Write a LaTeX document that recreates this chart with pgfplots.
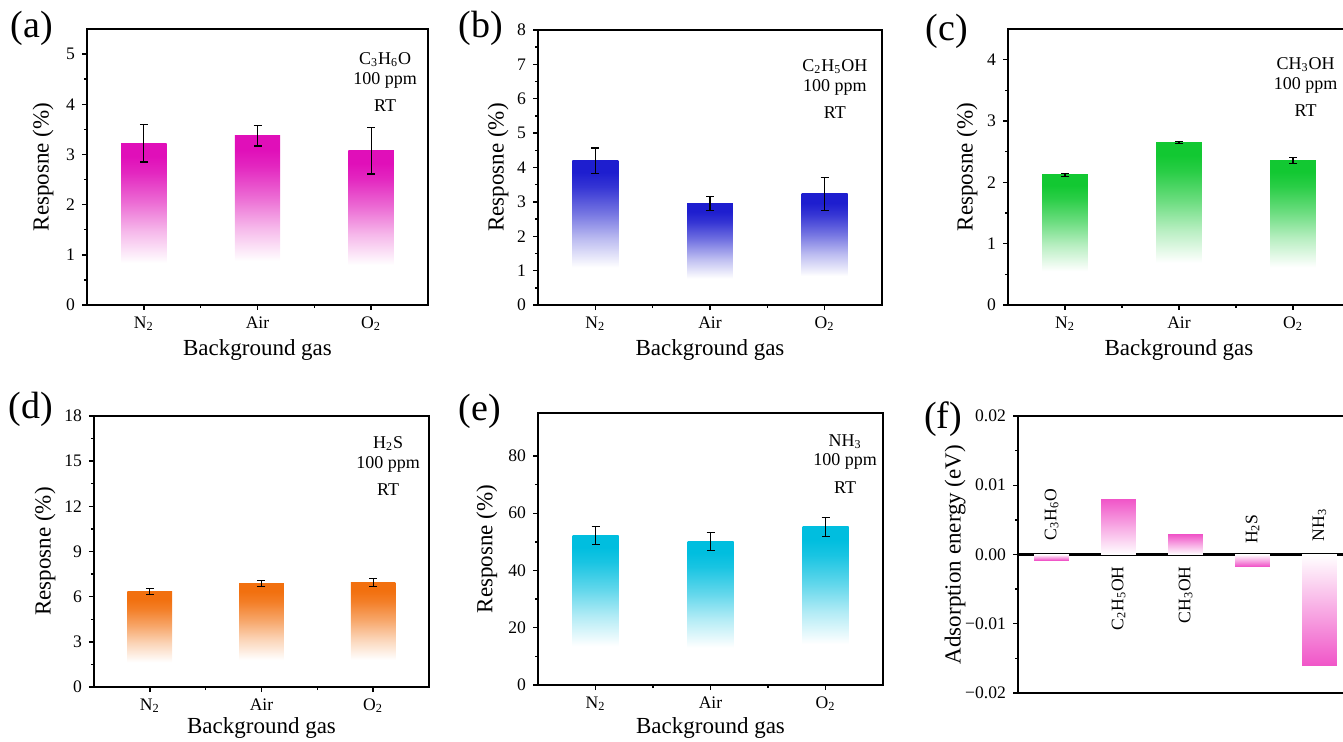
\documentclass[border=0pt]{standalone}
\usepackage{fontspec}
\setmainfont{Liberation Serif}
\usepackage{pgfplots}
\pgfplotsset{compat=1.18}

\definecolor{cA}{HTML}{E00FB9}
\definecolor{cB}{HTML}{1E1ECF}
\definecolor{cC}{HTML}{12C832}
\definecolor{cD}{HTML}{F2700F}
\definecolor{cE}{HTML}{00BEDF}
\definecolor{cF}{HTML}{F055C8}

\newcommand\mkshade[1]{%
  \colorlet{#1x}{#1!30!white}\colorlet{#1y}{#1!62!white}\colorlet{#1z}{#1!90!white}%
  \pgfdeclareverticalshading{up#1}{100bp}{color(0bp)=(white); color(38bp)=(white); color(48bp)=(#1x); color(57bp)=(#1y); color(66bp)=(#1z); color(71bp)=(#1); color(100bp)=(#1)}}
\mkshade{cA}\mkshade{cB}\mkshade{cC}\mkshade{cD}\mkshade{cE}\mkshade{cF}

\pgfplotsset{
  panel/.style={scale only axis, anchor=north west,
    axis line style={line width=0.9pt},
    tick align=outside, xtick pos=bottom, ytick pos=left,
    major tick length=2.5pt, minor tick length=1.5pt,
    every tick/.style={black, line width=0.7pt},
    tick label style={font=\fontsize{8.8}{9.5}\selectfont},
    label style={font=\fontsize{11.5}{13}\selectfont},
    /pgf/number format/assume math mode=true},
  gas/.style={axis on top, xmin=-0.5, xmax=2.5, xtick={0,1,2},
    xticklabels={N\textsubscript{2},Air,O\textsubscript{2}},
    minor x tick num=1, ymin=0, minor y tick num=1,
    xlabel={Background gas}, ylabel={Resposne (\%)}},
  ebar/.style={draw=none, mark=none, forget plot,
    error bars/.cd, y dir=both, y explicit,
    error bar style={draw=black, solid, line width=0.6pt},
    error mark options={draw=black, solid, rotate=90, mark size=2pt, line width=0.6pt}},
  gbar/.style={ybar, bar width=0.4, bar shift=0pt, draw=none, shade, shading=#1, forget plot},
  fup/.style={ybar, bar width=0.52, bar shift=0pt, draw=none, top color=cF, middle color=cF!45!white, bottom color=white, forget plot},
  fdn/.style={ybar, bar width=0.52, bar shift=0pt, draw=none, top color=white, middle color=cF!55!white, bottom color=cF, forget plot},
}
\newcommand\annot[3]{\node[align=center, anchor=north, font=\fontsize{9}{10.8}\selectfont] at (rel axis cs:#1,#2) {#3\\[-1pt]100 ppm\\[3pt]RT};}

\begin{document}
\begin{tikzpicture}
\useasboundingbox (0,0) rectangle (671.5pt,370.5pt);

% (a)
\begin{axis}[panel, gas, at={(43.5pt,356pt)}, width=170.5pt, height=138pt,
  ymax=5.5, ytick={0,1,2,3,4,5},
  xlabel style={at={(axis description cs:0.5,-0.163)}, anchor=center},
  ylabel style={at={(axis description cs:-0.129,0.5)}, anchor=center}]
\addplot[gbar=upcA] coordinates {(0,3.22)};
\addplot[gbar=upcA] coordinates {(1,3.37)};
\addplot[gbar=upcA] coordinates {(2,3.07)};
\addplot[ebar] coordinates {(0,3.22) +- (0,0.37) (1,3.37) +- (0,0.20) (2,3.07) +- (0,0.46)};
\annot{0.874}{0.94}{C\textsubscript{3}H\textsubscript{6}O}
\end{axis}

% (b)
\begin{axis}[panel, gas, at={(269pt,355.5pt)}, width=172pt, height=137.5pt,
  ymax=8, ytick={0,1,...,8},
  xlabel style={at={(axis description cs:0.5,-0.164)}, anchor=center},
  ylabel style={at={(axis description cs:-0.116,0.5)}, anchor=center}]
\addplot[gbar=upcB] coordinates {(0,4.20)};
\addplot[gbar=upcB] coordinates {(1,2.95)};
\addplot[gbar=upcB] coordinates {(2,3.23)};
\addplot[ebar] coordinates {(0,4.20) +- (0,0.37) (1,2.95) +- (0,0.21) (2,3.23) +- (0,0.47)};
\annot{0.863}{0.918}{C\textsubscript{2}H\textsubscript{5}OH}
\end{axis}

% (c)
\begin{axis}[panel, gas, at={(504pt,356pt)}, width=171pt, height=138pt,
  ymax=4.5, ytick={0,1,2,3,4},
  xlabel style={at={(axis description cs:0.5,-0.164)}, anchor=center},
  ylabel style={at={(axis description cs:-0.12,0.5)}, anchor=center}]
\addplot[gbar=upcC] coordinates {(0,2.12)};
\addplot[gbar=upcC] coordinates {(1,2.65)};
\addplot[gbar=upcC] coordinates {(2,2.36)};
\addplot[ebar] coordinates {(0,2.12) +- (0,0.03) (1,2.65) +- (0,0.02) (2,2.36) +- (0,0.05)};
\annot{0.87}{0.922}{CH\textsubscript{3}OH}
\end{axis}

% (d)
\begin{axis}[panel, gas, at={(47pt,162.5pt)}, width=167.5pt, height=135.5pt,
  ymax=18, ytick={0,3,...,18},
  xlabel style={at={(axis description cs:0.5,-0.151)}, anchor=center},
  ylabel style={at={(axis description cs:-0.146,0.5)}, anchor=center}]
\addplot[gbar=upcD] coordinates {(0,6.33)};
\addplot[gbar=upcD] coordinates {(1,6.90)};
\addplot[gbar=upcD] coordinates {(2,6.95)};
\addplot[ebar] coordinates {(0,6.33) +- (0,0.20) (1,6.90) +- (0,0.20) (2,6.95) +- (0,0.25)};
\annot{0.878}{0.95}{H\textsubscript{2}S}
\end{axis}

% (e)
\begin{axis}[panel, gas, at={(269pt,164pt)}, width=172.5pt, height=136pt,
  ymax=95, ytick={0,20,40,60,80},
  xlabel style={at={(axis description cs:0.5,-0.158)}, anchor=center},
  ylabel style={at={(axis description cs:-0.148,0.5)}, anchor=center}]
\addplot[gbar=upcE] coordinates {(0,52.3)};
\addplot[gbar=upcE] coordinates {(1,50.2)};
\addplot[gbar=upcE] coordinates {(2,55.2)};
\addplot[ebar] coordinates {(0,52.3) +- (0,3.2) (1,50.2) +- (0,3.2) (2,55.2) +- (0,3.3)};
\annot{0.89}{0.947}{NH\textsubscript{3}}
\end{axis}

% (f)
\begin{axis}[panel, at={(509pt,162.5pt)}, width=167.5pt, height=138.5pt,
  xmin=0.5, xmax=5.5, xtick=\empty,
  ymin=-0.02, ymax=0.02, ytick={-0.02,-0.01,0,0.01,0.02},
  yticklabels={−0.02,−0.01,0.00,0.01,0.02}, scaled y ticks=false,
  minor y tick num=1,
  extra y ticks={0,0.02}, extra y tick labels={},
  extra y tick style={grid=major, major grid style={black, line width=1.2pt}, major tick length=0pt},
  ylabel={Adsorption energy (eV)},
  ylabel style={at={(axis description cs:-0.188,0.5)}, anchor=center}]
\addplot[fdn] coordinates {(1,-0.0008)};
\addplot[fup] coordinates {(2,0.0080)};
\addplot[fup] coordinates {(3,0.0029)};
\addplot[fdn] coordinates {(4,-0.0017)};
\addplot[fdn] coordinates {(5,-0.0161)};
\begin{scope}[font=\fontsize{8.8}{9.5}\selectfont]
\node[rotate=90, anchor=west] at (axis cs:1,0.0010) {C\textsubscript{3}H\textsubscript{6}O};
\node[rotate=90, anchor=east] at (axis cs:2,-0.0007) {C\textsubscript{2}H\textsubscript{5}OH};
\node[rotate=90, anchor=east] at (axis cs:3,-0.0007) {CH\textsubscript{3}OH};
\node[rotate=90, anchor=west] at (axis cs:4,0.0005) {H\textsubscript{2}S};
\node[rotate=90, anchor=west] at (axis cs:5,0.0009) {NH\textsubscript{3}};
\end{scope}
\end{axis}

\begin{scope}[font=\fontsize{19}{21}\selectfont]
\node at (16pt,356.5pt) {(a)};
\node at (240.5pt,356.5pt) {(b)};
\node at (473.5pt,355pt) {(c)};
\node at (15.5pt,166pt) {(d)};
\node at (240pt,165pt) {(e)};
\node at (471.5pt,161pt) {(f)};
\end{scope}
\end{tikzpicture}
\end{document}
